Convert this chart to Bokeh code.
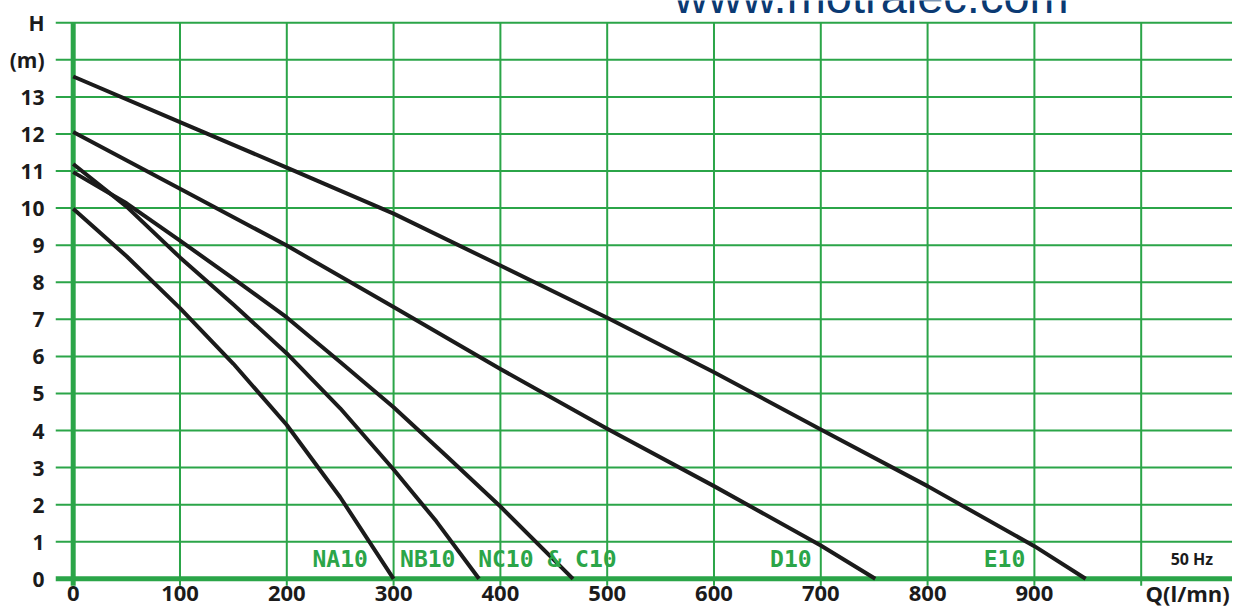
from bokeh.plotting import figure
from bokeh.models import FixedTicker, Range1d
from bokeh.core.properties import value
from bokeh.embed import file_html
from bokeh.resources import INLINE

# ---- pump curves: flow Q (l/mn) vs head H (m) ----
q_na10 = [0, 50, 100, 150, 200, 250, 300]
h_na10 = [9.98, 8.7, 7.3, 5.8, 4.15, 2.2, 0]

q_nb10 = [0, 50, 100, 150, 200, 250, 300, 340, 380]
h_nb10 = [11.19, 10.04, 8.67, 7.4, 6.08, 4.6, 2.95, 1.55, 0]

q_nc10 = [0, 50, 100, 150, 200, 250, 300, 350, 400, 468]
h_nc10 = [10.97, 10.13, 9.12, 8.1, 7.05, 5.85, 4.63, 3.3, 1.95, 0]

q_d10 = [0, 100, 200, 300, 400, 500, 600, 700, 751]
h_d10 = [12.05, 10.52, 8.99, 7.33, 5.66, 4.05, 2.5, 0.9, 0]

q_e10 = [0, 100, 200, 300, 400, 500, 600, 700, 800, 900, 948]
h_e10 = [13.55, 12.32, 11.09, 9.85, 8.45, 7.04, 5.57, 4.03, 2.5, 0.88, 0]

# ---- series names ----
series_names = ["NA10", "NB10", "NC10 & C10", "D10", "E10"]
name_q = [250, 332, 444, 672, 872]
name_h = [0.53, 0.53, 0.53, 0.53, 0.53]

# ---- ticks ----
x_ticks = [0, 100, 200, 300, 400, 500, 600, 700, 800, 900]
x_tick_labels = [str(v) for v in x_ticks]
x_unit_q = 1043.5
x_unit_label = "Q(l/mn)"
y_ticks = list(range(0, 16))
y_tick_overrides = {14: "(m)", 15: "H"}
x_grid = [100, 200, 300, 400, 500, 600, 700, 800, 900, 1000]
y_grid = list(range(1, 16))

GREEN = "#2ba548"
INK = "#1b1b1b"

W, H = 1232, 607
LEFT = 55
X0, X1 = -16.57, 1085.5
Y0, Y1 = -0.774, 15.60
GRID_BOTTOM = -0.19
GRID_TOP = 15
LABEL_MID = -0.385

p = figure(width=W, height=H,
           x_range=Range1d(X0, X1), y_range=Range1d(Y0, Y1),
           output_backend="svg", toolbar_location=None,
           x_axis_location=None,
           min_border_left=LEFT, min_border_right=0,
           min_border_top=0, min_border_bottom=0)
p.grid.visible = False
p.outline_line_color = None
p.background_fill_color = "white"
p.border_fill_color = "white"

# horizontal grid lines
p.segment(x0=[X0] * len(y_grid), y0=y_grid, x1=[X1] * len(y_grid), y1=y_grid,
          line_color=GREEN, line_width=2)
# vertical grid lines
p.segment(x0=x_grid, y0=[GRID_BOTTOM] * len(x_grid), x1=x_grid, y1=[GRID_TOP] * len(x_grid),
          line_color=GREEN, line_width=2)
# thick axes lines
p.segment(x0=[X0], y0=[0], x1=[X1], y1=[0], line_color=GREEN, line_width=5)
p.segment(x0=[0], y0=[GRID_BOTTOM], x1=[0], y1=[GRID_TOP], line_color=GREEN, line_width=5)

# curves
for q, h in [(q_na10, h_na10), (q_nb10, h_nb10), (q_nc10, h_nc10), (q_d10, h_d10), (q_e10, h_e10)]:
    p.line(q, h, line_color=INK, line_width=4, line_join="round")

# series names
p.text(x=name_q, y=name_h, text=series_names,
       text_font=value("DejaVu Sans Mono"), text_font_style="bold",
       text_font_size="23px", text_color=GREEN,
       text_align="center", text_baseline="middle")

p.text(x=[1047.5], y=[0.53], text=["50 Hz"],
       text_font=value("Open Sans"), text_font_style="bold",
       text_font_size="16px", text_color=INK,
       text_align="center", text_baseline="middle")

# x tick labels (the bottom axis labels, placed on the x scale)
p.text(x=x_ticks + [x_unit_q], y=[LABEL_MID] * (len(x_ticks) + 1),
       text=x_tick_labels + [x_unit_label],
       text_font=value("Open Sans"), text_font_style="bold",
       text_font_size="22px", text_color=INK,
       text_align="center", text_baseline="middle")

# watermark (cut by the top edge, as in the original)
p.text(x=[747.5], y=[15.28], text=["www.motralec.com"], y_offset=-16,
       text_font=value("Liberation Sans"), text_font_size="47px",
       text_color="#0b3a73", text_align="center", text_baseline="alphabetic")

# y axis
ax = p.yaxis[0]
ax.axis_line_color = None
ax.major_tick_line_color = None
ax.minor_tick_line_color = None
ax.major_tick_out = 0
ax.major_tick_in = 0
ax.minor_tick_out = 0
ax.minor_tick_in = 0
ax.major_label_text_font = "Open Sans"
ax.major_label_text_font_style = "bold"
ax.major_label_text_font_size = "21px"
ax.major_label_text_color = INK
ax.ticker = FixedTicker(ticks=y_ticks)
ax.major_label_overrides = y_tick_overrides
ax.major_label_standoff = 11

open("out.html", "w").write(file_html(p, INLINE))
